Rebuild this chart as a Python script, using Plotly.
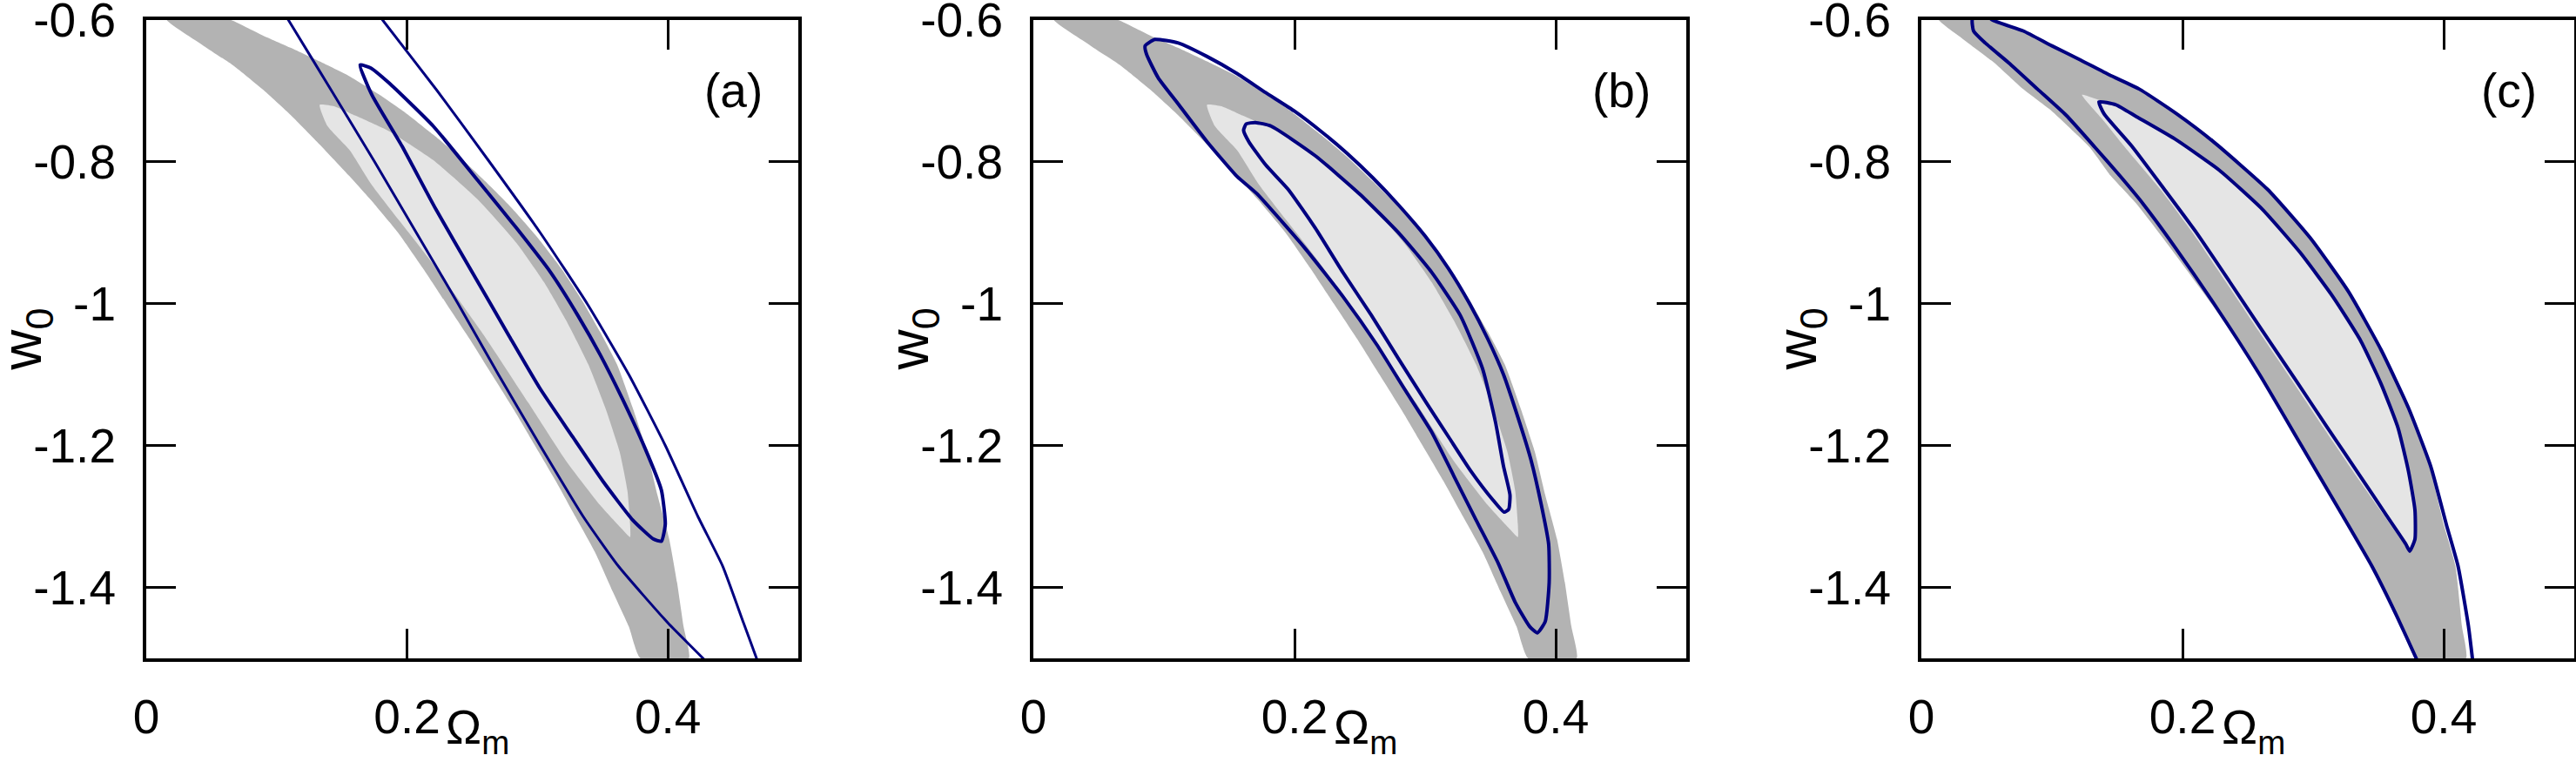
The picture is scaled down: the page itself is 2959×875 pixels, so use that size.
import plotly.graph_objects as go

# axis ticks
X_TICKS = [0, 0.2, 0.4]
X_TICKTEXT = ["0", "0.2", "0.4"]
Y_TICKS = [-0.6, -0.8, -1.0, -1.2, -1.4]
Y_TICKTEXT = ["-0.6", "-0.8", "-1", "-1.2", "-1.4"]
PANEL_LABELS = ["(a)", "(b)", "(c)"]

# shaded regions (Omega_m, w0), shared by panels a and b
GRAY_OUTER_AB = [
    (0.0156, -0.6), (0.064, -0.6), (0.078, -0.612), (0.089, -0.622), (0.111, -0.64),
    (0.133, -0.659), (0.156, -0.68), (0.178, -0.705), (0.2, -0.733), (0.22, -0.762),
    (0.24, -0.793), (0.26, -0.828), (0.28, -0.865), (0.3, -0.907), (0.318, -0.95),
    (0.334, -0.995), (0.348, -1.04), (0.361, -1.086), (0.373, -1.147), (0.384, -1.209),
    (0.392, -1.27), (0.401, -1.332), (0.407, -1.393), (0.412, -1.455), (0.416, -1.5),
    (0.379, -1.5), (0.37, -1.455), (0.358, -1.407), (0.344, -1.35), (0.329, -1.3),
    (0.314, -1.25), (0.298, -1.2), (0.282, -1.15), (0.265, -1.1), (0.248, -1.05),
    (0.23, -1.0), (0.212, -0.95), (0.193, -0.9), (0.175, -0.86), (0.156, -0.821),
    (0.133, -0.776), (0.111, -0.735), (0.089, -0.698), (0.067, -0.665), (0.044, -0.637),
    (0.0156, -0.6),
]
GRAY_INNER_AB = [
    (0.133, -0.72), (0.144, -0.722), (0.16, -0.735), (0.186, -0.757), (0.22, -0.798),
    (0.254, -0.853), (0.284, -0.915), (0.305, -0.97), (0.322, -1.024), (0.339, -1.086),
    (0.352, -1.147), (0.363, -1.209), (0.369, -1.264), (0.371, -1.31), (0.371, -1.329),
    (0.365, -1.318), (0.348, -1.284), (0.322, -1.222), (0.293, -1.14), (0.259, -1.045),
    (0.216, -0.935), (0.173, -0.833), (0.156, -0.784), (0.139, -0.75), (0.133, -0.72),
]

# panel c shaded regions
GRAY_OUTER_C = [
    (0.0133, -0.6), (0.054, -0.6), (0.078, -0.616), (0.1, -0.637), (0.122, -0.657),
    (0.144, -0.678), (0.167, -0.698), (0.195, -0.732), (0.223, -0.771), (0.265, -0.839),
    (0.298, -0.908), (0.327, -0.983), (0.352, -1.065), (0.373, -1.147), (0.389, -1.229),
    (0.4, -1.311), (0.409, -1.37), (0.414, -1.455), (0.417, -1.5), (0.379, -1.5),
    (0.364, -1.44), (0.345, -1.37), (0.323, -1.3), (0.291, -1.2), (0.259, -1.1),
    (0.222, -1.0), (0.19, -0.92), (0.165, -0.86), (0.145, -0.82), (0.129, -0.78),
    (0.118, -0.76), (0.1, -0.729), (0.078, -0.698), (0.056, -0.661), (0.033, -0.629),
    (0.0133, -0.6),
]
GRAY_INNER_C = [
    (0.123, -0.706), (0.142, -0.717), (0.149, -0.72), (0.165, -0.737), (0.194, -0.768),
    (0.228, -0.812), (0.261, -0.867), (0.29, -0.928), (0.315, -0.99), (0.336, -1.051),
    (0.352, -1.113), (0.365, -1.175), (0.373, -1.236), (0.378, -1.291), (0.378, -1.332),
    (0.374, -1.349), (0.37, -1.34), (0.354, -1.298), (0.333, -1.243), (0.308, -1.175),
    (0.283, -1.106), (0.258, -1.038), (0.233, -0.969), (0.208, -0.901), (0.183, -0.839),
    (0.156, -0.78), (0.138, -0.739), (0.123, -0.706),
]

# blue contours
A_OUTER_LEFT = [
    (0.102, -0.58), (0.1088, -0.6), (0.142, -0.7), (0.175, -0.8), (0.207, -0.9),
    (0.239, -1.0), (0.27, -1.1), (0.302, -1.2), (0.335, -1.3), (0.362, -1.37),
    (0.4, -1.45), (0.427, -1.5), (0.437, -1.52),
]
A_OUTER_RIGHT = [
    (0.173, -0.58), (0.181, -0.6), (0.223, -0.7), (0.263, -0.8), (0.302, -0.9),
    (0.338, -1.0), (0.37, -1.1), (0.398, -1.2), (0.423, -1.3), (0.442, -1.37),
    (0.458, -1.45), (0.468, -1.5), (0.472, -1.52),
]
A_INNER = [
    (0.164, -0.664), (0.172, -0.668), (0.186, -0.689), (0.22, -0.75), (0.254, -0.826),
    (0.284, -0.894), (0.31, -0.956), (0.331, -1.017), (0.348, -1.072), (0.365, -1.134),
    (0.382, -1.202), (0.395, -1.263), (0.398, -1.311), (0.395, -1.335), (0.389, -1.332),
    (0.373, -1.305), (0.35, -1.25), (0.327, -1.188), (0.302, -1.12), (0.278, -1.045),
    (0.25, -0.956), (0.222, -0.867), (0.196, -0.778), (0.173, -0.706), (0.164, -0.664),
]
B_OUTER = [
    (0.0856, -0.637), (0.093, -0.628), (0.111, -0.633), (0.133, -0.652), (0.156, -0.676),
    (0.178, -0.703), (0.2, -0.729), (0.22, -0.757), (0.24, -0.788), (0.26, -0.823),
    (0.28, -0.862), (0.3, -0.905), (0.318, -0.951), (0.334, -1.0), (0.348, -1.05),
    (0.36, -1.1), (0.371, -1.16), (0.381, -1.22), (0.389, -1.284), (0.3946, -1.339),
    (0.395, -1.393), (0.392, -1.448), (0.386, -1.464), (0.38, -1.455), (0.369, -1.421),
    (0.356, -1.366), (0.339, -1.305), (0.322, -1.243), (0.305, -1.181), (0.284, -1.12),
    (0.263, -1.058), (0.237, -0.99), (0.2075, -0.921), (0.171, -0.845), (0.156, -0.821),
    (0.133, -0.772), (0.111, -0.719), (0.0956, -0.682), (0.0867, -0.649), (0.0856, -0.637),
]
B_INNER = [
    (0.163, -0.747), (0.17, -0.745), (0.182, -0.75), (0.216, -0.792), (0.25, -0.846),
    (0.28, -0.901), (0.305, -0.956), (0.327, -1.017), (0.344, -1.092), (0.354, -1.168),
    (0.36, -1.229), (0.365, -1.27), (0.364, -1.29), (0.3605, -1.294), (0.352, -1.277),
    (0.335, -1.236), (0.318, -1.188), (0.301, -1.14), (0.28, -1.079), (0.259, -1.017),
    (0.237, -0.956), (0.216, -0.894), (0.195, -0.839), (0.178, -0.805), (0.165, -0.772),
    (0.161, -0.756), (0.163, -0.747),
]
C_OUTER = [
    (0.046, -0.585), (0.054, -0.6), (0.078, -0.616), (0.1, -0.637), (0.122, -0.657),
    (0.144, -0.678), (0.167, -0.698), (0.195, -0.732), (0.223, -0.771), (0.265, -0.839),
    (0.298, -0.908), (0.327, -0.983), (0.352, -1.065), (0.373, -1.147), (0.39, -1.229),
    (0.402, -1.311), (0.411, -1.37), (0.419, -1.455), (0.422, -1.5), (0.424, -1.53),
    (0.4, -1.56), (0.384, -1.52), (0.379, -1.5), (0.364, -1.44), (0.345, -1.37),
    (0.323, -1.3), (0.291, -1.2), (0.259, -1.1), (0.224, -1.0), (0.194, -0.92),
    (0.17, -0.86), (0.152, -0.82), (0.133, -0.78), (0.111, -0.735), (0.089, -0.698),
    (0.067, -0.661), (0.049, -0.633), (0.04, -0.616), (0.039, -0.6), (0.046, -0.585),
]
C_INNER = [
    (0.136, -0.716), (0.149, -0.72), (0.165, -0.737), (0.194, -0.768), (0.228, -0.812),
    (0.261, -0.867), (0.29, -0.928), (0.315, -0.99), (0.336, -1.051), (0.352, -1.113),
    (0.365, -1.175), (0.373, -1.236), (0.378, -1.291), (0.378, -1.332), (0.374, -1.349),
    (0.371, -1.339), (0.356, -1.298), (0.336, -1.243), (0.311, -1.175), (0.286, -1.106),
    (0.261, -1.038), (0.236, -0.969), (0.211, -0.901), (0.186, -0.839), (0.161, -0.778),
    (0.14, -0.733), (0.136, -0.716),
]

DARK = "#b3b3b3"
LIGHT = "#e5e5e5"
BLUE = "#000080"
FONT = "Liberation Sans, Arial, Helvetica, sans-serif"

panels = [
    dict(fills=[(GRAY_OUTER_AB, DARK), (GRAY_INNER_AB, LIGHT)],
         lines=[(A_OUTER_LEFT, 3), (A_OUTER_RIGHT, 3), (A_INNER, 4)]),
    dict(fills=[(GRAY_OUTER_AB, DARK), (GRAY_INNER_AB, LIGHT)],
         lines=[(B_OUTER, 4), (B_INNER, 4)]),
    dict(fills=[(GRAY_OUTER_C, DARK), (GRAY_INNER_C, LIGHT)],
         lines=[(C_OUTER, 4), (C_INNER, 4)]),
]

W, H = 2959, 875
x_doms = [[168 / W, 917 / W], [1187 / W, 1937 / W], [2207 / W, 2957 / W]]
y_dom = [1 - 756 / H, 1 - 22.5 / H]

fig = go.Figure()

for i, p in enumerate(panels):
    s = "" if i == 0 else str(i + 1)
    for pts, col in p["fills"]:
        fig.add_trace(go.Scatter(
            x=[q[0] for q in pts], y=[q[1] for q in pts],
            mode="lines", fill="toself", fillcolor=col,
            line=dict(width=0, color=col, shape="spline", smoothing=0.5),
            xaxis="x" + s, yaxis="y" + s, hoverinfo="skip", showlegend=False))
    for pts, lw in p["lines"]:
        fig.add_trace(go.Scatter(
            x=[q[0] for q in pts], y=[q[1] for q in pts],
            mode="lines", line=dict(width=lw, color=BLUE, shape="spline", smoothing=0.5),
            xaxis="x" + s, yaxis="y" + s, hoverinfo="skip", showlegend=False))

    axis_common = dict(
        showline=True, linewidth=4, linecolor="black", mirror="ticks",
        ticks="inside", ticklen=34, tickwidth=3, tickcolor="black",
        showgrid=False, zeroline=False, ticklabeloverflow="allow", automargin=False,
        tickfont=dict(family=FONT, size=55, color="black"),
    )
    fig.layout["xaxis" + s] = dict(
        domain=x_doms[i], anchor="y" + s, range=[0, 0.5],
        tickvals=X_TICKS, ticktext=X_TICKTEXT, ticklabelstandoff=16, **axis_common)
    fig.layout["yaxis" + s] = dict(
        domain=y_dom, anchor="x" + s, range=[-1.5, -0.6],
        tickvals=Y_TICKS, ticktext=Y_TICKTEXT, ticklabelstandoff=20, **axis_common)

    fig.add_annotation(text=PANEL_LABELS[i], x=0.45, y=-0.70, xref="x" + s, yref="y" + s,
                       showarrow=False, font=dict(family=FONT, size=55, color="black"))
    fig.add_annotation(text="\u03a9<sub>m</sub>", x=0.254, y=-0.113,
                       xref="x" + s, yref="y" + s + " domain", yanchor="middle",
                       showarrow=False, font=dict(family=FONT, size=55, color="black"))
    fig.add_annotation(text="w<sub>0</sub>", x=-0.185, y=-1.05, textangle=-90,
                       xref="x" + s + " domain", yref="y" + s, xanchor="center",
                       showarrow=False, font=dict(family=FONT, size=64, color="black"))

fig.update_layout(
    width=W, height=H,
    margin=dict(l=0, r=0, t=0, b=0, autoexpand=False),
    paper_bgcolor="white", plot_bgcolor="white",
    showlegend=False,
)

fig.write_html("out.html", config={"displayModeBar": False},
               post_script="document.body.style.margin='0px';")
